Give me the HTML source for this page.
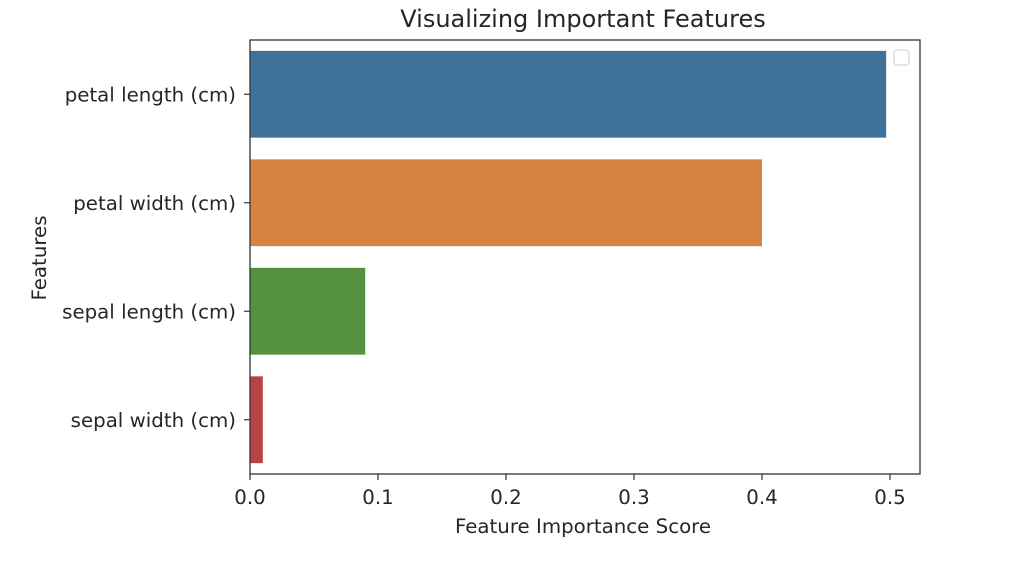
<!DOCTYPE html>
<html><head><meta charset="utf-8"><style>
body{margin:0;background:#fff;}
svg text{font-family:"DejaVu Sans","Liberation Sans",sans-serif;fill:#262626;}
</style></head><body>
<svg width="1020" height="564" xmlns="http://www.w3.org/2000/svg">
<text x="583" y="27" font-size="24" text-anchor="middle">Visualizing Important Features</text>
<g id="bars"></g>
<g id="axes"></g>
<rect x="894" y="50" width="15" height="15" rx="3" fill="none" stroke="#ddd" stroke-width="1.5"/>
<text x="583" y="533" font-size="19.8" text-anchor="middle">Feature Importance Score</text>
<text transform="translate(46,258) rotate(-90)" font-size="19.8" text-anchor="middle">Features</text>
</svg>
<script>
const categories=["petal length (cm)","petal width (cm)","sepal length (cm)","sepal width (cm)"];
const values=[0.497,0.400,0.090,0.010];
const colors=["#3f729b","#d4843e","#55923f","#b94242"];
const xTicks=[0,0.1,0.2,0.3,0.4,0.5];
const tickLabels=["0.0","0.1","0.2","0.3","0.4","0.5"];
const L=250,R=920,T=40,B=474;
const xs=v=>L+v*1280;
const band=(B-T)/categories.length;
const NS="http://www.w3.org/2000/svg";
const bars=document.getElementById('bars'),axes=document.getElementById('axes');
function mk(tag,attrs,parent){const e=document.createElementNS(NS,tag);for(const k in attrs)e.setAttribute(k,attrs[k]);parent.appendChild(e);return e;}
categories.forEach((c,i)=>{
 const y=T+band*i+band*0.1;
 const r=mk('rect',{x:L,y:y,width:xs(values[i])-L,height:band*0.8,fill:colors[i]},bars);
 
 
 const cy=T+band*(i+0.5);
 mk('line',{x1:L-6,x2:L,y1:cy,y2:cy,stroke:'#333','stroke-width':1.2},axes);
 const t=mk('text',{x:L-14,y:cy+7,'font-size':19.8,'text-anchor':'end'},axes);
 t.textContent=c;
 
 
});
xTicks.forEach((v,i)=>{
 const x=xs(v);
 mk('line',{x1:x,x2:x,y1:B,y2:B+6,stroke:'#333','stroke-width':1.2},axes);
 const t=mk('text',{x:x,y:B+30,'font-size':19.8,'text-anchor':'middle'},axes);
 t.textContent=tickLabels[i];
 
 
});
const f=mk('rect',{x:L,y:T,width:R-L,height:B-T,fill:'none',stroke:'#333','stroke-width':1.3},axes);


</script>
</body></html>
